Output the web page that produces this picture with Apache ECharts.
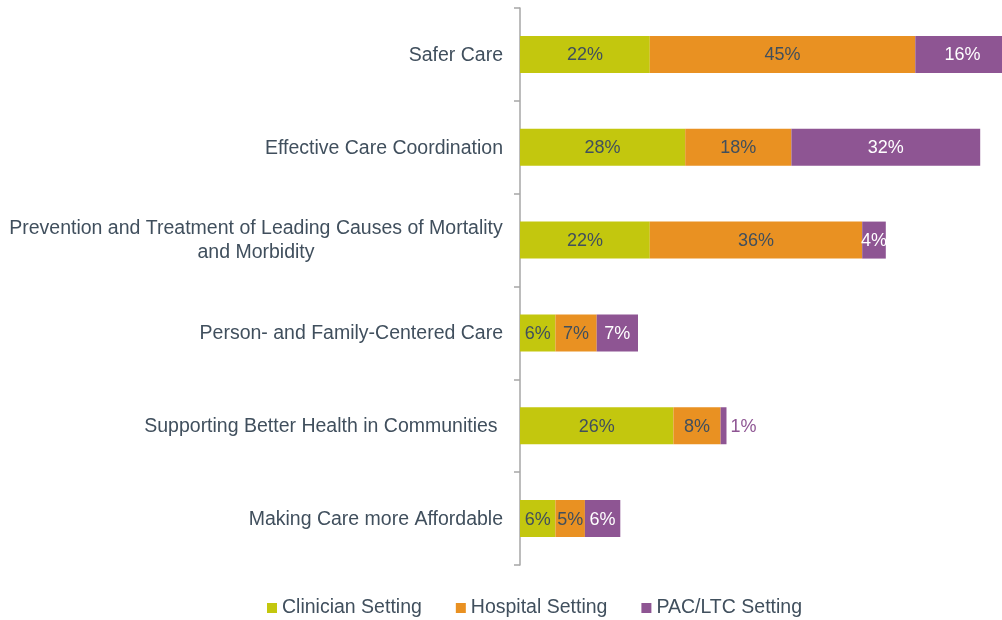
<!DOCTYPE html>
<html>
<head>
<meta charset="utf-8">
<script src="https://cdn.jsdelivr.net/npm/echarts@6/dist/echarts.min.js"></script>
<style>
  html, body { margin: 0; padding: 0; background: #fff; }
  #chart { width: 1002px; height: 620px; }
</style>
</head>
<body>
<div id="chart"></div>
<script>
// categories, top to bottom
const categories = [
  'Safer Care',
  'Effective Care Coordination',
  'Prevention and Treatment of Leading Causes of Mortality\nand Morbidity',
  'Person- and Family-Centered Care',
  'Supporting Better Health in Communities ',
  'Making Care more Affordable'
];
const seriesNames = ['Clinician Setting', 'Hospital Setting', 'PAC/LTC Setting'];
const clinician = [22, 28, 22, 6, 26, 6];
const hospital = [45, 18, 36, 7, 8, 5];
const pacLtc = [16, 32, 4, 7, 1, 6];

const colors = ['#C3C70E', '#E99122', '#8E5593'];
const textColor = '#404F5D';

const chart = echarts.init(document.getElementById('chart'));

function makeSeries(name, values, color, labelColor) {
  return {
    name: name,
    type: 'bar',
    stack: 'total',
    barWidth: 37,
    itemStyle: { color: color },
    label: {
      show: true,
      position: 'inside',
      formatter: '{c}%',
      fontSize: 18,
      fontFamily: 'Liberation Sans, Arial, sans-serif',
      color: labelColor,
      offset: [0, 1]
    },
    // tiny segments get their label outside, in the series colour
    data: values.map(v => v < 2
      ? { value: v, label: { position: 'right', color: color, distance: 4 } }
      : v)
  };
}

chart.setOption({
  animation: false,
  textStyle: { fontFamily: 'Liberation Sans, Arial, sans-serif' },
  grid: {
    left: 520,
    top: 8,
    bottom: 55,
    width: 590,
    containLabel: false,
    outerBoundsMode: 'none'
  },
  legend: {
    left: 267,
    top: 598,
    padding: 0,
    icon: 'rect',
    itemWidth: 10,
    itemHeight: 10,
    itemGap: 34,
    textStyle: { fontSize: 19.5, color: textColor },
    data: seriesNames
  },
  xAxis: {
    type: 'value',
    min: 0,
    max: 100,
    show: false
  },
  yAxis: {
    type: 'category',
    inverse: true,
    data: categories,
    axisLine: { show: true, lineStyle: { color: '#A6A6A6', width: 1.5 } },
    axisTick: { show: true, length: 6, lineStyle: { color: '#A6A6A6', width: 1.5 } },
    axisLabel: {
      margin: 17,
      fontSize: 19.5,
      color: textColor,
      lineHeight: 24,
      padding: [2, 0, 0, 0],
      formatter: function (v) {
        if (v.indexOf('\n') < 0) return v;
        return v.split('\n').map(s => '{c|' + s + '}').join('\n');
      },
      rich: {
        c: { width: 494, align: 'center', fontSize: 19.5, color: textColor, lineHeight: 24 }
      }
    }
  },
  series: [
    makeSeries(seriesNames[0], clinician, colors[0], textColor),
    makeSeries(seriesNames[1], hospital, colors[1], textColor),
    makeSeries(seriesNames[2], pacLtc, colors[2], '#FFFFFF')
  ]
});
</script>
</body>
</html>
